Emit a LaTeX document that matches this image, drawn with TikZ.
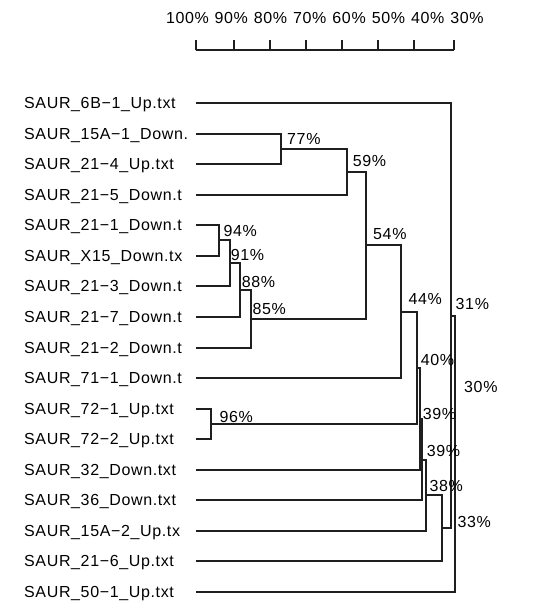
\documentclass[tikz,border=0pt]{standalone}
\usepackage{fontspec}
\setmainfont{Liberation Sans}[LetterSpace=4]
\begin{document}
\begin{tikzpicture}[x=1pt,y=-1pt,
  br/.style={line width=1.7pt, draw=black!88},
  txt/.style={anchor=base west, inner sep=0pt, font=\fontsize{16}{19}\selectfont},
  sc/.style={anchor=base, inner sep=0pt, font=\fontsize{16}{19}\selectfont}]
\useasboundingbox (0,0) rectangle (558,616);
% scale
\coordinate (a0) at (196,50); \coordinate (a1) at (234,50); \coordinate (a2) at (270,50);
\coordinate (a3) at (306,50); \coordinate (a4) at (342,50); \coordinate (a5) at (378,50);
\coordinate (a6) at (414,50); \coordinate (a7) at (454,50);
\draw[br] (a0) -- (a7);
\foreach \i in {0,...,7} \draw[br] (a\i) -- ++(0,-10);
\node[sc] (t0) at (187.5,23) {100\%};
\node[sc] (t1) at (231.2,23) {90\%};
\node[sc] (t2) at (270.5,23) {80\%};
\node[sc] (t3) at (309.8,23) {70\%};
\node[sc] (t4) at (349.1,23) {60\%};
\node[sc] (t5) at (388.4,23) {50\%};
\node[sc] (t6) at (427.7,23) {40\%};
\node[sc] (t7) at (467,23) {30\%};
% leaves
\foreach \i/\y/\t in {0/103/SAUR\_6B−1\_Up.txt, 1/134/SAUR\_15A−1\_Down., 2/164/SAUR\_21−4\_Up.txt,
  3/195/SAUR\_21−5\_Down.t, 4/225/SAUR\_21−1\_Down.t, 5/256/SAUR\_X15\_Down.tx,
  6/286/SAUR\_21−3\_Down.t, 7/317/SAUR\_21−7\_Down.t, 8/348/SAUR\_21−2\_Down.t,
  9/378/SAUR\_71−1\_Down.t, 10/409/SAUR\_72−1\_Up.txt, 11/439/SAUR\_72−2\_Up.txt,
  12/470/SAUR\_32\_Down.txt, 13/500/SAUR\_36\_Down.txt, 14/531/SAUR\_15A−2\_Up.tx,
  15/561/SAUR\_21−6\_Up.txt, 16/592/SAUR\_50−1\_Up.txt}{
  \node[txt] (l\i) at (24,\y+5.7) {\t};
  \coordinate (s\i) at (196,\y);
}
% internal nodes
\coordinate (n77) at (281,149);
\coordinate (n59) at (347,172);
\coordinate (n94) at (219,240);
\coordinate (n91) at (230,263);
\coordinate (n88) at (240,290);
\coordinate (n85) at (251,319);
\coordinate (n54) at (366,245);
\coordinate (n44) at (401,312);
\coordinate (n96) at (211,424);
\coordinate (n40) at (417,368);
\coordinate (n39a) at (420,419);
\coordinate (n39b) at (422,460);
\coordinate (n38) at (426,495);
\coordinate (n33) at (442,528);
\coordinate (n31) at (451,316);
\coordinate (n30) at (455,454);
\foreach \c/\p in {s1/n77,s2/n77,n77/n59,s3/n59,s4/n94,s5/n94,n94/n91,s6/n91,n91/n88,s7/n88,
  n88/n85,s8/n85,n59/n54,n85/n54,n54/n44,s9/n44,s10/n96,s11/n96,n44/n40,n96/n40,
  n40/n39a,s12/n39a,n39a/n39b,s13/n39b,n39b/n38,s14/n38,n38/n33,s15/n33,
  s0/n31,n33/n31,n31/n30,s16/n30}
  \draw[br] (\c) -| (\p);
% percentages
\node[txt] (p77) at (287,144.7) {77\%};
\node[txt] (p59) at (352.7,166.7) {59\%};
\node[txt] (p54) at (373,239.7) {54\%};
\node[txt] (p94) at (223.3,236.7) {94\%};
\node[txt] (p91) at (230.7,260.7) {91\%};
\node[txt] (p88) at (241.7,287.4) {88\%};
\node[txt] (p85) at (252.3,314.5) {85\%};
\node[txt] (p44) at (408.3,304.2) {44\%};
\node[txt] (p31) at (455.5,309.2) {31\%};
\node[txt] (p40) at (420.7,365.2) {40\%};
\node[txt] (p30) at (464,392.7) {30\%};
\node[txt] (p96) at (219.3,422.4) {96\%};
\node[txt] (p39a) at (422.7,419.7) {39\%};
\node[txt] (p39b) at (426.7,456.7) {39\%};
\node[txt] (p38) at (429.3,491.2) {38\%};
\node[txt] (p33) at (457.3,527) {33\%};
\end{tikzpicture}
\end{document}
